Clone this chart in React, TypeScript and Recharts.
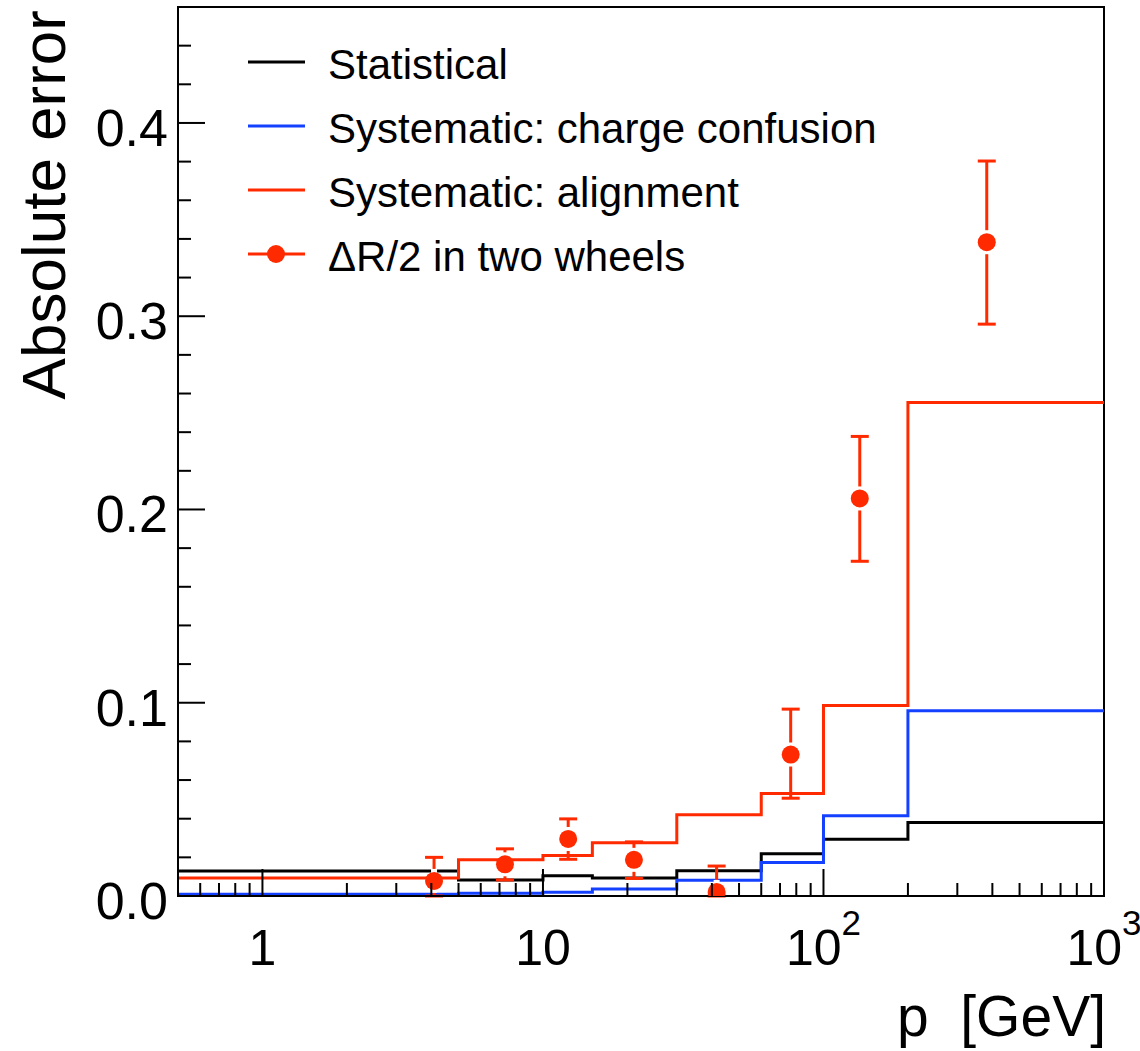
import React from "react";
import { ComposedChart, Line, Scatter, ErrorBar, XAxis, YAxis, ReferenceArea } from "recharts";

const FONT = "'Liberation Sans', Arial, Helvetica, sans-serif";

// bin edges in p [GeV], shared by the three step histograms
const binEdges = [0.5, 5, 10, 15, 30, 60, 100, 200, 1000];
const statistical = [0.013, 0.0083, 0.0105, 0.0093, 0.0131, 0.0218, 0.0294, 0.038];
const chargeConfusion = [0.0009, 0.0014, 0.0019, 0.0036, 0.0081, 0.0173, 0.0415, 0.0959];
const alignment = [0.0093, 0.0188, 0.0209, 0.0275, 0.042, 0.053, 0.0986, 0.2553];

// ΔR/2 in two wheels
const pointP = [4.09, 7.32, 12.3, 21.1, 41.6, 76.4, 134.7, 382];
const pointVal = [0.0078, 0.0164, 0.0295, 0.0187, 0.0021, 0.0732, 0.2057, 0.3383];
const pointLow = [0.0, 0.0083, 0.019, 0.0091, 0.0, 0.0506, 0.1732, 0.2959];
const pointHigh = [0.02, 0.0244, 0.0399, 0.028, 0.0155, 0.0967, 0.2378, 0.3803];

const xTicks = [
  0.6, 0.7, 0.8, 0.9, 1, 2, 3, 4, 5, 6, 7, 8, 9, 10, 20, 30, 40, 50, 60, 70, 80, 90,
  100, 200, 300, 400, 500, 600, 700, 800, 900, 1000,
];
const xLabels: Record<number, [string, string]> = { 1: ["1", ""], 10: ["10", ""], 100: ["10", "2"], 1000: ["10", "3"] };
const yTicks = [
  0, 0.02, 0.04, 0.06, 0.08, 0.1, 0.12, 0.14, 0.16, 0.18, 0.2, 0.22, 0.24, 0.26, 0.28, 0.3,
  0.32, 0.34, 0.36, 0.38, 0.4, 0.42, 0.44,
];
const yLabels: Record<number, string> = { 0: "0.0", 0.1: "0.1", 0.2: "0.2", 0.3: "0.3", 0.4: "0.4" };

const BLACK = "#000000";
const BLUE = "#1440ff";
const RED = "#ff2a00";

const legendItems = [
  { label: "Statistical", color: BLACK, marker: false },
  { label: "Systematic: charge confusion", color: BLUE, marker: false },
  { label: "Systematic: alignment", color: RED, marker: false },
  { label: "\u0394R/2 in two wheels", color: RED, marker: true },
];

function steps(vals: number[]) {
  return binEdges.map((x, i) => ({ x, v: vals[Math.min(i, vals.length - 1)] }));
}

const points = pointP.map((x, i) => ({
  x,
  y: pointVal[i],
  err: [pointVal[i] - pointLow[i], pointHigh[i] - pointVal[i]],
}));

function XTick({ x, y, payload }: any) {
  const lab = xLabels[payload.value];
  const len = lab ? 27 : 13;
  return (
    <g>
      <line x1={x} x2={x} y1={y} y2={y - len} stroke="#000" strokeWidth={2} />
      {lab && (
        <text x={x} y={y + 69} textAnchor="middle" fontSize={50} fontFamily={FONT} fill="#000">
          {lab[0]}
          {lab[1] && (
            <tspan fontSize={35} dy={-30}>
              {lab[1]}
            </tspan>
          )}
        </text>
      )}
    </g>
  );
}

function YTick({ x, y, payload }: any) {
  const lab = yLabels[payload.value];
  const len = lab !== undefined ? 27 : 13;
  return (
    <g>
      <line x1={x} x2={x + len} y1={y} y2={y} stroke="#000" strokeWidth={2} />
      {lab !== undefined && (
        <text x={x - 10} y={y + 23} textAnchor="end" fontSize={52} fontFamily={FONT} fill="#000">
          {lab}
        </text>
      )}
    </g>
  );
}

function Marker({ cx, cy }: any) {
  return (
    <g>
      <rect x={cx - 3} y={cy - 12} width={6} height={24} fill="#fff" />
      <circle cx={cx} cy={cy} r={9} fill={RED} />
    </g>
  );
}

function LegendBox() {
  return (
    <svg width={900} height={290} style={{ position: "absolute", left: 0, top: 0, pointerEvents: "none" }}>
      {legendItems.map((it, i) => {
        const y = 62 + i * 64;
        return (
          <g key={it.label}>
            <line x1={248} x2={305} y1={y} y2={y} stroke={it.color} strokeWidth={3} />
            {it.marker && <circle cx={276} cy={y} r={9} fill={it.color} />}
            <text x={328} y={y + 17} fontSize={42} fontFamily={FONT} fill="#000">
              {it.label}
            </text>
          </g>
        );
      })}
    </svg>
  );
}

export default function App() {
  return (
    <div style={{ position: "absolute", left: 0, top: 0, width: 1140, height: 1051, background: "#fff" }}>
      <ComposedChart width={1140} height={1051} margin={{ top: 7, right: 36, bottom: 0, left: 0 }}>
        <XAxis
          dataKey="x"
          type="number"
          scale="log"
          domain={[0.5, 1000]}
          allowDataOverflow
          ticks={xTicks}
          interval={0}
          tickSize={0}
          tickMargin={0}
          tick={<XTick />}
          axisLine={{ stroke: "#000", strokeWidth: 2 }}
          height={155}
          label={() => (
            <text x={1106} y={1036} textAnchor="end" fontSize={57} fontFamily={FONT} fill="#000">
              {"p\u00a0\u00a0[GeV]"}
            </text>
          )}
        />
        <YAxis
          type="number"
          domain={[0, 0.46]}
          allowDataOverflow
          ticks={yTicks}
          interval={0}
          tickSize={0}
          tickMargin={0}
          tick={<YTick />}
          axisLine={{ stroke: "#000", strokeWidth: 2 }}
          width={178}
          label={() => (
            <text
              x={65}
              y={10}
              transform="rotate(-90, 65, 10)"
              textAnchor="end"
              fontSize={62}
              fontFamily={FONT}
              fill="#000"
            >
              Absolute error
            </text>
          )}
        />
        <ReferenceArea x1={0.5} x2={1000} y1={0} y2={0.46} fill="none" stroke="#000" strokeWidth={2} />
        <Line data={steps(statistical)} dataKey="v" type="stepAfter" stroke={BLACK} strokeWidth={3} dot={false} isAnimationActive={false} />
        <Line data={steps(chargeConfusion)} dataKey="v" type="stepAfter" stroke={BLUE} strokeWidth={3} dot={false} isAnimationActive={false} />
        <Line data={steps(alignment)} dataKey="v" type="stepAfter" stroke={RED} strokeWidth={3} dot={false} isAnimationActive={false} />
        <Scatter data={points} dataKey="y" fill={RED} shape={<Marker />} isAnimationActive={false}>
          <ErrorBar dataKey="err" direction="y" width={9} strokeWidth={3} stroke={RED} />
        </Scatter>
      </ComposedChart>
      <LegendBox />
    </div>
  );
}
